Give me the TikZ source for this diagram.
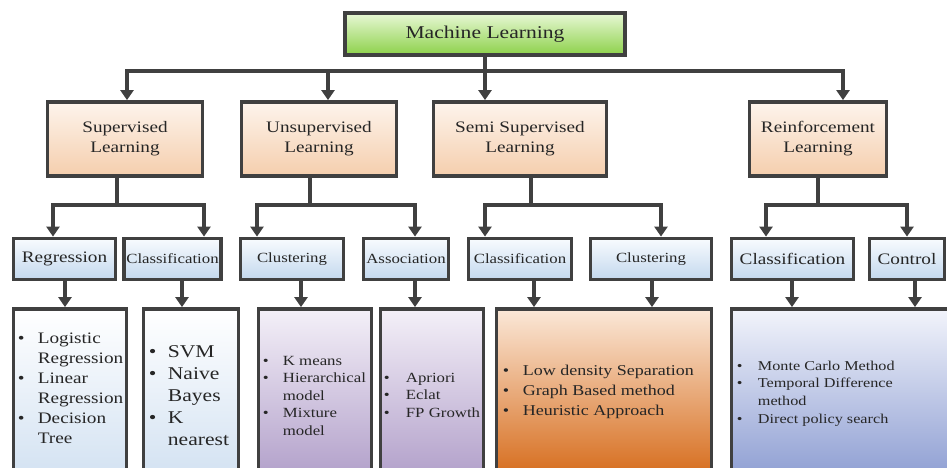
\documentclass[tikz,border=0pt]{standalone}
\usepackage{fontspec}
\setmainfont[FakeStretch=1.2]{Liberation Serif}
\usetikzlibrary{arrows.meta}

\definecolor{edge}{HTML}{404040}
\definecolor{mltop}{HTML}{E8F8D6}
\definecolor{mlbot}{HTML}{8DD14A}
\definecolor{kindtop}{HTML}{FDF4EC}
\definecolor{kindbot}{HTML}{F5CEAD}
\definecolor{tasktop}{HTML}{F8FBFE}
\definecolor{taskbot}{HTML}{C3D8EE}
\definecolor{bluetop}{HTML}{FFFFFF}
\definecolor{bluebot}{HTML}{D3E2F2}
\definecolor{purptop}{HTML}{F4F0F8}
\definecolor{purpbot}{HTML}{B2A0CA}
\definecolor{orantop}{HTML}{FBE8D8}
\definecolor{oranbot}{HTML}{D66C1C}
\definecolor{lavtop}{HTML}{F2F4FB}
\definecolor{lavbot}{HTML}{8F9FD3}

\begin{document}
\begin{tikzpicture}[
        x=1pt, y=-1pt,
        >={Triangle[length=10pt, width=13pt]},
        line width=3.8pt,
        draw=edge,
        box/.style={draw=edge, align=center, inner sep=2pt, text=black!85},
        mlbox/.style={box, minimum width=280pt, minimum height=42pt,
            top color=mltop, bottom color=mlbot, font=\fontsize{18}{20}\selectfont},
        kind/.style={box, minimum height=74pt,
            top color=kindtop, bottom color=kindbot, font=\fontsize{16}{20}\selectfont},
        task/.style={box, minimum height=41pt,
            top color=tasktop, bottom color=taskbot, font=\fontsize{14}{16}\selectfont},
        listbox/.style={draw=edge, minimum height=168pt},
        items/.style={anchor=base west, inner sep=0pt, text=black!85}
    ]
    \clip (0,0) rectangle (947,468);

    % root and the four kinds of learning
    \node[mlbox] (ml) at (485,34) {Machine Learning};
    \node[kind, minimum width=155pt] (sup) at (125,139) {Supervised\\Learning};
    \node[kind, minimum width=155pt] (uns) at (319,139) {Unsupervised\\Learning};
    \node[kind, minimum width=173pt] (semi) at (520,139) {Semi Supervised\\Learning};
    \node[kind, minimum width=137pt] (rl) at (818,139) {Reinforcement\\Learning};

    % tasks
    \node[task, minimum width=102pt, font=\fontsize{16}{18}\selectfont] (reg) at (64.5,259) {Regression};
    \node[task, minimum width=96pt] (cls1) at (172.5,259) {Classification};
    \node[task, minimum width=103pt] (clu1) at (292,259) {Clustering};
    \node[task, minimum width=85pt] (ass) at (406,259) {Association};
    \node[task, minimum width=103pt] (cls2) at (520,259) {Classification};
    \node[task, minimum width=121pt] (clu2) at (651,259) {Clustering};
    \node[task, minimum width=122pt, font=\fontsize{16}{18}\selectfont] (cls3) at (792.5,259) {Classification};
    \node[task, minimum width=75pt, font=\fontsize{16}{18}\selectfont] (ctl) at (907,259) {Control};

    % method lists
    \node[listbox, minimum width=113pt, top color=bluetop, bottom color=bluebot] (regl) at (70,393) {};
    \node[listbox, minimum width=95pt, top color=bluetop, bottom color=bluebot] (clsl) at (191,393) {};
    \node[listbox, minimum width=113pt, top color=purptop, bottom color=purpbot] (clul) at (315,393) {};
    \node[listbox, minimum width=103pt, top color=purptop, bottom color=purpbot] (assl) at (432,393) {};
    \node[listbox, minimum width=215pt, top color=orantop, bottom color=oranbot] (semil) at (604,393) {};
    \node[listbox, minimum width=227pt, top color=lavtop, bottom color=lavbot] (rll) at (845,393) {};

    \node[items, font=\fontsize{16}{20}\selectfont] (regt) at (16,343) {%
        \begin{tabular}[t]{@{}p{20pt}@{}l@{}}
        \textbullet & Logistic\\ & Regression\\ \textbullet & Linear\\
        & Regression\\ \textbullet & Decision\\ & Tree
        \end{tabular}};
    \node[items, font=\fontsize{18}{22}\selectfont] (clst) at (147,357) {%
        \begin{tabular}[t]{@{}p{19pt}@{}l@{}}
        \textbullet & SVM\\ \textbullet & Naive\\ & Bayes\\
        \textbullet & K\\ & nearest
        \end{tabular}};
    \node[items, font=\fontsize{14}{17.5}\selectfont] (clut) at (261,365) {%
        \begin{tabular}[t]{@{}p{20pt}@{}l@{}}
        \textbullet & K means\\ \textbullet & Hierarchical\\ & model\\
        \textbullet & Mixture\\ & model
        \end{tabular}};
    \node[items, font=\fontsize{14}{17.5}\selectfont] (asst) at (382,382) {%
        \begin{tabular}[t]{@{}p{22pt}@{}l@{}}
        \textbullet & Apriori\\ \textbullet & Eclat\\ \textbullet & FP Growth
        \end{tabular}};
    \node[items, font=\fontsize{15}{20}\selectfont] (semit) at (501,375) {%
        \begin{tabular}[t]{@{}p{20pt}@{}l@{}}
        \textbullet & Low density Separation\\ \textbullet & Graph Based method\\
        \textbullet & Heuristic Approach
        \end{tabular}};
    \node[items, font=\fontsize{13.5}{17.7}\selectfont] (rlt) at (735,370) {%
        \begin{tabular}[t]{@{}p{21pt}@{}l@{}}
        \textbullet & Monte Carlo Method\\ \textbullet & Temporal Difference\\
        & method\\ \textbullet & Direct policy search
        \end{tabular}};

    % junctions below each parent
    \coordinate (jml) at (485,71);
    \coordinate (jsup) at (117,205);
    \coordinate (juns) at (310,205);
    \coordinate (jsemi) at (531,205);
    \coordinate (jrl) at (818,205);

    \draw (ml) -- (jml);
    \draw (jsup |- sup.south) -- (jsup);
    \draw (juns |- uns.south) -- (juns);
    \draw (jsemi |- semi.south) -- (jsemi);
    \draw (jrl |- rl.south) -- (jrl);

    \foreach \j/\x/\n in {jml/127/sup, jml/328/uns, jml/485/semi, jml/843/rl,
            jsup/53/reg, jsup/204/cls1, juns/257/clu1, juns/415/ass,
            jsemi/485/cls2, jsemi/661/clu2, jrl/766/cls3, jrl/907/ctl}
        \draw[->] (\j) -| (\x,0 |- \n.north);

    \foreach \a/\b/\x in {reg/regl/65, cls1/clsl/182, clu1/clul/301, ass/assl/415,
            cls2/semil/534, clu2/semil/652, cls3/rll/792, ctl/rll/915}
        \draw[->] (\x,0 |- \a.south) -- (\x,0 |- \b.north);
\end{tikzpicture}
\end{document}
